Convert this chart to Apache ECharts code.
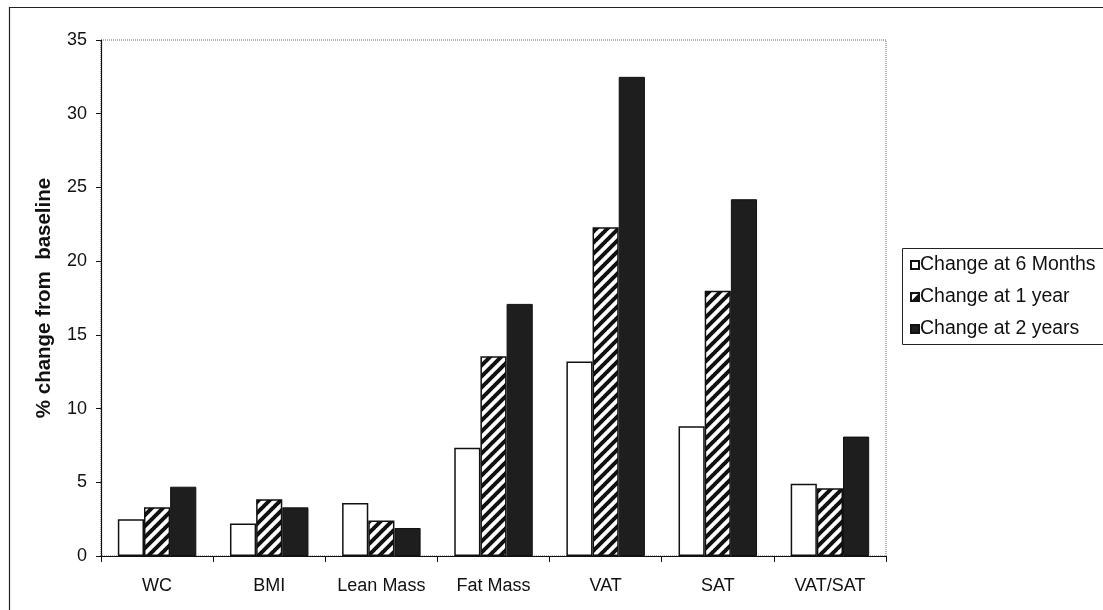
<!DOCTYPE html>
<html>
<head>
<meta charset="utf-8">
<script src="https://cdn.jsdelivr.net/npm/echarts@6/dist/echarts.min.js"></script>
<style>
html,body{margin:0;padding:0;background:#fff;}
#chart{width:1103px;height:610px;}
</style>
</head>
<body>
<div id="chart"></div>
<script>
const categories = ['WC', 'BMI', 'Lean Mass', 'Fat Mass', 'VAT', 'SAT', 'VAT/SAT'];
const seriesNames = ['Change at 6 Months', 'Change at 1 year', 'Change at 2 years'];
const change6Months = [2.5, 2.2, 3.6, 7.35, 13.2, 8.8, 4.9];
const change1Year = [3.3, 3.85, 2.4, 13.55, 22.3, 18.0, 4.6];
const change2Years = [4.7, 3.3, 1.9, 17.1, 32.5, 24.2, 8.1];
const yTicks = [0, 5, 10, 15, 20, 25, 30, 35];

function makeHatch(size, lw) {
  const c = document.createElement('canvas');
  c.width = size; c.height = size;
  const ctx = c.getContext('2d');
  ctx.fillStyle = '#ffffff';
  ctx.fillRect(0, 0, size, size);
  ctx.strokeStyle = '#111111';
  ctx.lineWidth = lw;
  ctx.beginPath();
  for (let k = -1; k <= 1; k++) {
    ctx.moveTo(k * size - 1, size + 1);
    ctx.lineTo(k * size + size + 1, -1);
  }
  ctx.stroke();
  return c;
}
const hatch = makeHatch(11, 4);

const chart = echarts.init(document.getElementById('chart'));
const font = 'Liberation Sans, Arial, sans-serif';

chart.setOption({
  animation: false,
  backgroundColor: '#ffffff',
  textStyle: { fontFamily: font },
  grid: {
    left: 101, right: 217, top: 40, bottom: 54,
    show: true, borderColor: '#666', borderWidth: 1, borderType: 'dotted', backgroundColor: 'transparent'
  },
  xAxis: {
    type: 'category',
    data: categories,
    axisLine: { lineStyle: { color: '#111', width: 1.2 } },
    axisTick: { show: true, length: 6, lineStyle: { color: '#111' } },
    axisLabel: { color: '#111', fontSize: 18, margin: 21, fontFamily: font, interval: 0 }
  },
  yAxis: {
    type: 'value',
    min: 0, max: 35, interval: 5,
    name: '% change from  baseline',
    nameLocation: 'middle',
    nameGap: 46,
    nameTextStyle: { color: '#111', fontSize: 20.5, fontWeight: 'bold', fontFamily: font },
    axisLine: { show: true, lineStyle: { color: '#111', width: 1.2 } },
    axisTick: { show: true, length: 5, lineStyle: { color: '#111' } },
    axisLabel: { color: '#111', fontSize: 18, margin: 14, fontFamily: font,
      formatter: v => yTicks.includes(v) ? String(v) : '' },
    splitLine: { show: false }
  },
  legend: {
    orient: 'vertical',
    left: 910, top: 255,
    padding: 0,
    itemWidth: 8, itemHeight: 8,
    itemGap: 12,
    icon: 'rect',
    textStyle: { color: '#111', fontSize: 19.5, fontFamily: font, padding: [0, 0, 0, -4] },
    data: seriesNames
  },
  graphic: [
    { type: 'rect', shape: { x: 9.5, y: 7.5, width: 1200, height: 700 },
      style: { fill: 'none', stroke: '#222', lineWidth: 1.2 }, silent: true },
    { type: 'rect', shape: { x: 902.5, y: 248.5, width: 300, height: 96 },
      style: { fill: 'none', stroke: '#222', lineWidth: 1 }, silent: true }
  ],
  series: [
    { name: seriesNames[0], type: 'bar', data: change6Months, barGap: '0%', barCategoryGap: '30%',
      itemStyle: { color: '#ffffff', borderColor: '#111', borderWidth: 1.5 } },
    { name: seriesNames[1], type: 'bar', data: change1Year,
      itemStyle: { color: { image: hatch, repeat: 'repeat' }, borderColor: '#111', borderWidth: 1.5 } },
    { name: seriesNames[2], type: 'bar', data: change2Years,
      itemStyle: { color: '#1e1e1e', borderColor: '#111', borderWidth: 1 } }
  ]
});
</script>
</body>
</html>
